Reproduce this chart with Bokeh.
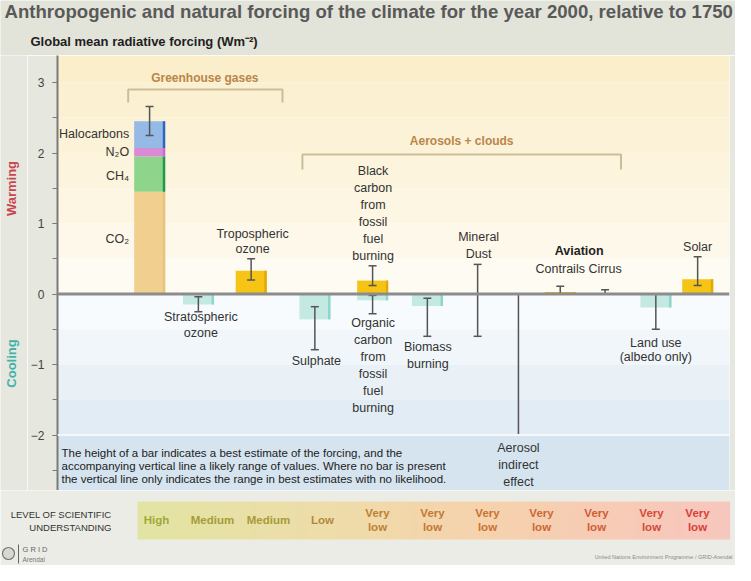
import numpy as np
from bokeh.plotting import figure
from bokeh.layouts import column, row
from bokeh.models import Range1d, Span, Label, SingleIntervalTicker
from bokeh.embed import file_html
from bokeh.resources import INLINE

# ---------------- data ----------------
ghg_parts = ["CO₂", "CH₄", "N₂O", "Halocarbons"]
ghg_values = [1.45, 0.50, 0.12, 0.38]
ghg_err = [2.25, 2.66]

bar_names = ["Stratospheric ozone", "Tropospheric ozone", "Sulphate",
             "Black carbon", "Organic carbon", "Biomass burning",
             "Contrails", "Land use", "Solar"]
bar_values = [-0.15, 0.33, -0.36, 0.19, -0.09, -0.17, 0.03, -0.19, 0.21]
bar_err_low = [-0.25, 0.20, -0.79, 0.12, -0.28, -0.60, 0.00, -0.50, 0.12]
bar_err_high = [-0.04, 0.50, -0.18, 0.40, -0.02, -0.06, 0.11, 0.00, 0.53]

range_names = ["Mineral Dust", "Aerosol indirect effect", "Cirrus"]
range_low = [-0.60, -2.00, 0.00]
range_high = [0.42, 0.00, 0.06]

levels = ["High", "Medium", "Medium", "Low", "Very low", "Very low",
          "Very low", "Very low", "Very low", "Very low", "Very low"]

# ---------------- layout (reference pixel coordinates) ----------------
FONT = "Liberation Sans"
X0, X1 = 62, 737
PX_PER_UNIT = 70.5
ZERO_Y = 301.5
TOP_Y, BOT_Y = 63, 498
BG_TOP, BG_MID, BG_BOT = "#e2e3d9", "#e6e7df", "#ecece6"


def yd(Y):
    return (ZERO_Y - Y) / PX_PER_UNIT


ghg_x = 154.5
bar_x = {"Stratospheric ozone": 203.5, "Tropospheric ozone": 256.5, "Sulphate": 320.5,
         "Black carbon": 378.5, "Organic carbon": 378.5, "Biomass burning": 433.5,
         "Contrails": 567, "Land use": 663, "Solar": 705}
range_x = {"Mineral Dust": 484, "Aerosol indirect effect": 525, "Cirrus": 612}
level_x = [164, 220, 276, 330, 385, 440, 495, 549, 604, 659, 705]
level_colors = ["#9fa93a", "#a49c38", "#a89a38", "#b38a3c", "#c08036", "#c47833",
                "#c87233", "#cc6834", "#d05c36", "#d54a3b", "#d8403b"]
BW = 31


def deco_fig(x0, x1, y0, y1, bg):
    f = figure(width=int(x1 - x0), height=int(y1 - y0), output_backend="svg",
               toolbar_location=None, title_location=None,
               x_range=Range1d(x0, x1), y_range=Range1d(y1, y0),
               x_axis_location=None, y_axis_location=None,
               min_border=0, min_border_left=0, min_border_right=0,
               min_border_top=0, min_border_bottom=0)
    f.border_fill_color = bg
    f.background_fill_color = bg
    f.outline_line_color = None
    f.grid.visible = False
    return f


def put(f, x, y, text, size=12.5, color="#333333", align="center", style="normal", angle=0.0):
    f.add_layout(Label(x=x, y=y, text=text, text_font=FONT, text_font_size=f"{size}px",
                       text_color=color, text_align=align, text_baseline="middle",
                       text_font_style=style, angle=angle))


# ---------- title strip ----------
ft = deco_fig(8, 743, 8, 63, BG_TOP)
put(ft, 12, 19, "Anthropogenic and natural forcing of the climate for the year 2000, relative to 1750",
    size=18.6, color="#595959", align="left", style="bold")
put(ft, 38, 49, "Global mean radiative forcing (Wm⁻²)", size=13, color="#1e1e1e",
    align="left", style="bold")

# ---------- left strip (Warming / Cooling) ----------
fl = deco_fig(8, 35, TOP_Y, BOT_Y, BG_MID)
put(fl, 19, 196, "Warming", size=13, color="#c9464f", style="bold", angle=np.pi / 2)
put(fl, 19, 371, "Cooling", size=13, color="#43b2aa", style="bold", angle=np.pi / 2)

# ---------- main chart ----------
p = figure(width=743 - 35, height=BOT_Y - TOP_Y, output_backend="svg", toolbar_location=None,
           title_location=None,
           x_range=Range1d(X0, X1), y_range=Range1d(yd(BOT_Y), yd(TOP_Y)),
           x_axis_location=None, min_border_left=X0 - 35, min_border_right=743 - X1,
           min_border_top=0, min_border_bottom=0)
p.border_fill_color = BG_MID
p.background_fill_color = "#ffffff"
p.outline_line_color = None
p.grid.visible = False

band_edges = [yd(TOP_Y), 3.0, 2.5, 2.0, 1.5, 1.0, 0.5, 0.0, -0.5, -1.0, -1.5, -2.0, yd(BOT_Y)]
band_cols = ["#fbeecb", "#fbf0d1", "#fcf2d7", "#fcf4dd", "#fdf6e3", "#fdf8ea", "#fefbf2",
             "#f8fbfd", "#f0f6fa", "#e9f1f7", "#e2ecf4", "#d5e4ef"]
p.quad(left=X0, right=X1, top=band_edges[:-1], bottom=band_edges[1:], fill_color=band_cols,
       line_color=None)
p.add_layout(Span(location=-2.0, dimension="width", line_color="#f4f8fb", line_width=2))

ax = p.yaxis[0]
ax.ticker = SingleIntervalTicker(interval=1, num_minor_ticks=2)
ax.axis_line_color = "#7a7a7a"
ax.axis_line_width = 2
ax.major_tick_line_color = "#7a7a7a"
ax.minor_tick_line_color = "#7a7a7a"
ax.major_tick_out = 5
ax.major_tick_in = 0
ax.minor_tick_out = 5
ax.minor_tick_in = 0
ax.major_label_text_font = FONT
ax.major_label_text_font_size = "12px"
ax.major_label_text_color = "#444444"
ax.major_label_standoff = 8

br_col = "#cbbd98"
p.multi_line(xs=[[133, 133, 288, 288], [308, 308, 628, 628]],
             ys=[[yd(110), yd(97), yd(97), yd(110)], [yd(177), yd(162), yd(162), yd(177)]],
             line_color=br_col, line_width=2)

ghg_top = np.cumsum(ghg_values)
ghg_bot = ghg_top - np.array(ghg_values)
ghg_fill = ["#f1d08f", "#8fd48b", "#d98bd6", "#95bae6"]
ghg_edge = ["#e9c27c", "#1f9a4c", "#c070c8", "#2f63c4"]
p.vbar(x=ghg_x, bottom=ghg_bot, top=ghg_top, width=BW, fill_color=ghg_fill, line_color=None)
p.segment(x0=ghg_x + BW / 2 - 1, x1=ghg_x + BW / 2 - 1, y0=ghg_bot, y1=ghg_top,
          line_color=ghg_edge, line_width=2.5)

bx = np.array([bar_x[n] for n in bar_names])
bv = np.array(bar_values)
pos = bv > 0
fills = np.where(pos, "#f6c414", "#c4e9e3")
edges = np.where(pos, "#e2a90a", "#8dd6cc")
p.vbar(x=bx, bottom=0, top=bv, width=BW, fill_color=list(fills), line_color=None)
p.segment(x0=bx + BW / 2 - 1, x1=bx + BW / 2 - 1, y0=0, y1=bv, line_color=list(edges),
          line_width=2.5)

p.add_layout(Span(location=0, dimension="width", line_color="#8c8c8c", line_width=3))

ex = np.concatenate([[ghg_x], bx, [range_x[n] for n in range_names]])
elo = np.concatenate([[ghg_err[0]], bar_err_low, range_low])
ehi = np.concatenate([[ghg_err[1]], bar_err_high, range_high])
ecol = "#555555"
p.segment(x0=ex, x1=ex, y0=elo, y1=ehi, line_color=ecol, line_width=1.5)
p.segment(x0=ex - 4, x1=ex + 4, y0=elo, y1=elo, line_color=ecol, line_width=1.5)
p.segment(x0=ex - 4, x1=ex + 4, y0=ehi, y1=ehi, line_color=ecol, line_width=1.5)


def lab(x, Y, text, **kw):
    put(p, x, yd(Y), text, **kw)


def stack(x, Y0, lines, dy=17, **kw):
    for i, t in enumerate(lines):
        lab(x, Y0 + i * dy, t, **kw)


lab(210, 85, "Greenhouse gases", size=12, color="#b9864a", style="bold")
lab(468, 148, "Aerosols + clouds", size=12, color="#b9864a", style="bold")

for name, Y in zip(ghg_parts, [246, 183, 159, 141]):
    lab(134, Y, name, align="right")

stack(258, 241, ["Tropospheric", "ozone"], dy=15)
stack(206, 324, ["Stratospheric", "ozone"], dy=16)
stack(379, 178, ["Black", "carbon", "from", "fossil", "fuel", "burning"])
stack(379, 330, ["Organic", "carbon", "from", "fossil", "fuel", "burning"])
lab(322, 368, "Sulphate")
stack(434, 354, ["Biomass", "burning"])
stack(485, 244, ["Mineral", "Dust"])
stack(525, 455, ["Aerosol", "indirect", "effect"])
lab(586, 258, "Aviation", style="bold", color="#222222")
lab(567, 276, "Contrails")
lab(612, 276, "Cirrus")
lab(705, 254, "Solar")
stack(663, 350, ["Land use", "(albedo only)"], dy=14)

note = ["The height of a bar indicates a best estimate of the forcing, and the",
        "accompanying vertical line a likely range of values.  Where no bar is present",
        "the vertical line only indicates the range in best estimates with no likelihood."]
stack(66, 460, note, dy=13, size=11.5, align="left", color="#222222")

# ---------- level of scientific understanding strip ----------
fb = deco_fig(8, 743, BOT_Y, 573, BG_BOT)
grad_stops = [(145, (0xe2, 0xe5, 0xa3)), (330, (0xee, 0xdd, 0xa9)), (480, (0xf6, 0xd3, 0xad)),
              (737, (0xf8, 0xc6, 0xbe))]
edges_x = np.linspace(145, 737, 75)
sx = [s[0] for s in grad_stops]
mids = (edges_x[:-1] + edges_x[1:]) / 2
cols = []
for m in mids:
    rgb = [int(np.interp(m, sx, [s[1][k] for s in grad_stops])) for k in range(3)]
    cols.append("#%02x%02x%02x" % tuple(rgb))
fb.quad(left=edges_x[:-1], right=edges_x[1:] + 0.6, top=509, bottom=547, fill_color=cols,
        line_color=None)
put(fb, 119, 522, "LEVEL OF SCIENTIFIC", size=9.5, align="right")
put(fb, 119, 535, "UNDERSTANDING", size=9.5, align="right")
for x, t, c in zip(level_x, levels, level_colors):
    parts = t.split(" ")
    if len(parts) == 1:
        put(fb, x, 527, t, size=11.5, color=c, style="bold")
    else:
        put(fb, x, 520, parts[0], size=11.5, color=c, style="bold")
        put(fb, x, 534, parts[1], size=11.5, color=c, style="bold")

# logo and credit
fb.scatter(x=[16], y=[561], size=12, marker="circle", fill_color="#d8d8d0",
           line_color="#777777", line_width=1.2)
fb.segment(x0=[26], x1=[26], y0=[552], y1=[571], line_color="#666666", line_width=1)
put(fb, 30, 557, "G R I D", size=7.5, color="#666666", align="left")
put(fb, 30, 567, "Arendal", size=6.5, color="#777777", align="left")
put(fb, 740, 564, "United Nations Environment Programme / GRID-Arendal", size=5.5,
    color="#8a8a8a", align="right")

layout = column(ft, row(fl, p), fb)
open("out.html", "w").write(file_html(layout, INLINE))
